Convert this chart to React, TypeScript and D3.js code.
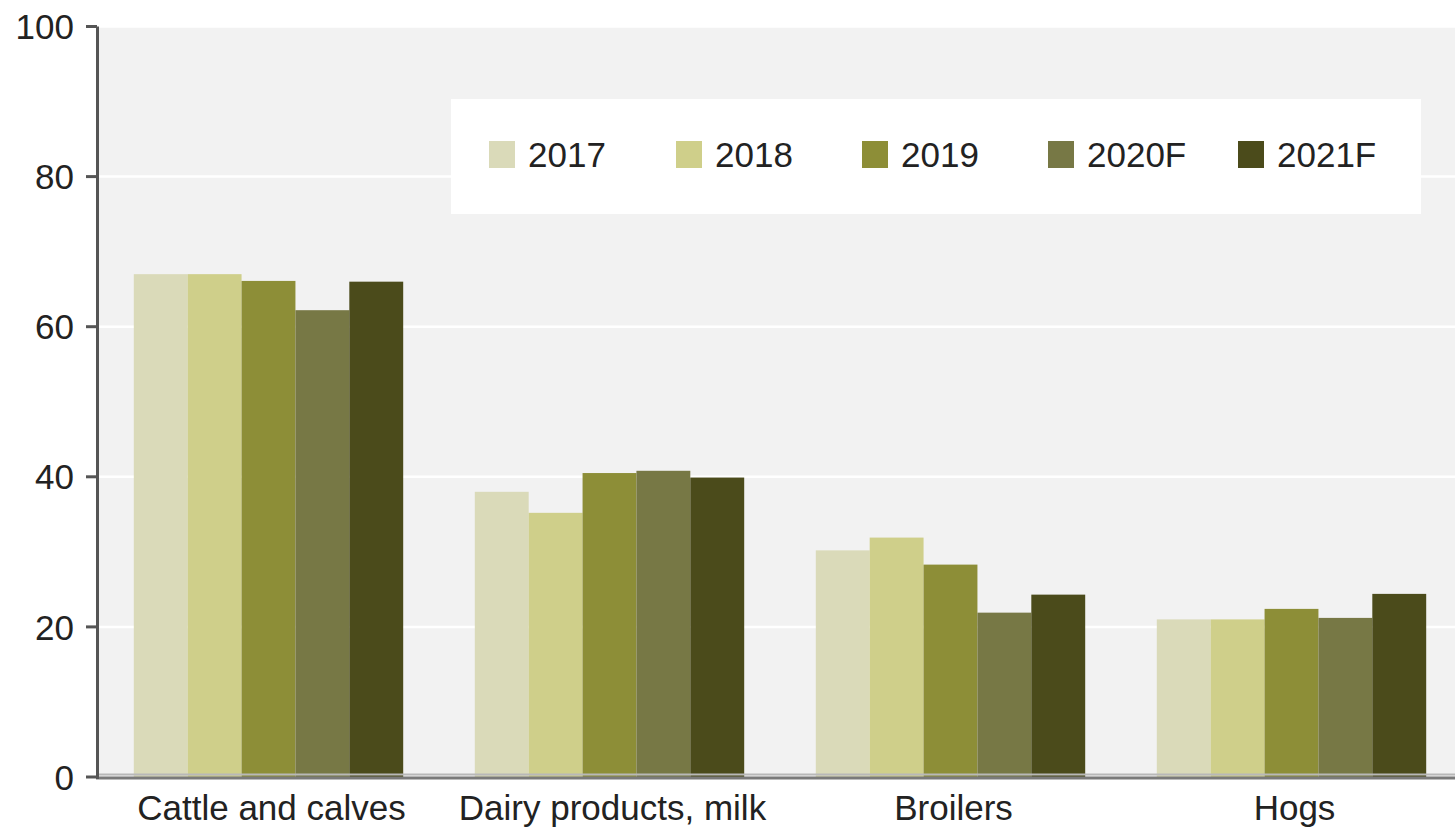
import React from "react";
import * as d3 from "d3";

const categories = ["Cattle and calves", "Dairy products, milk", "Broilers", "Hogs"];
const seriesNames = ["2017", "2018", "2019", "2020F", "2021F"];
const colors = ["#dadab9", "#cfcf8a", "#8d8e37", "#777845", "#4b4b1b"];
const values2017 = [67.0, 38.0, 30.2, 21.0];
const values2018 = [67.0, 35.2, 31.9, 21.0];
const values2019 = [66.1, 40.5, 28.3, 22.4];
const values2020F = [62.2, 40.8, 21.9, 21.2];
const values2021F = [66.0, 39.9, 24.3, 24.4];
const seriesValues = [values2017, values2018, values2019, values2020F, values2021F];
const yTicks = [0, 20, 40, 60, 80, 100];

const W = 1455;
const H = 827;
const FONT = "'Liberation Sans', Arial, sans-serif";

export default function App() {
  const plotLeft = 98;
  const plotRight = 1462;
  const y = d3.scaleLinear().domain([0, 100]).range([777, 26.5]);
  const x0 = d3
    .scaleBand<string>()
    .domain(categories)
    .range([plotLeft, plotRight])
    .paddingInner(0.21)
    .paddingOuter(0.105);
  const x1 = d3
    .scaleBand<string>()
    .domain(seriesNames)
    .range([0, x0.bandwidth()])
    .padding(0);

  const legendX = [489, 676, 862, 1048, 1238];

  return (
    <svg
      width={W}
      height={H}
      style={{ position: "absolute", left: 0, top: 0, background: "#fff" }}
      fontFamily={FONT}
    >
      <rect x={99} y={y(100)} width={W - 99} height={y(0) - y(100)} fill="#f2f2f2" />
      {yTicks
        .filter((t) => t > 0)
        .map((t) => (
          <line key={t} x1={99} x2={W} y1={y(t)} y2={y(t)} stroke="#ffffff" strokeWidth={2.5} />
        ))}
      {categories.map((c, ci) =>
        seriesNames.map((s, si) => {
          const v = seriesValues[si][ci];
          return (
            <rect
              key={c + s}
              x={(x0(c) as number) + (x1(s) as number)}
              y={y(v)}
              width={x1.bandwidth()}
              height={y(0) - y(v)}
              fill={colors[si]}
            />
          );
        })
      )}
      {/* legend */}
      <rect x={451} y={99} width={970} height={115} fill="#ffffff" />
      {seriesNames.map((s, i) => (
        <g key={s}>
          <rect x={legendX[i]} y={141} width={26} height={27} fill={colors[i]} />
          <text x={legendX[i] + 39} y={167} fontSize={35} fill="#222">
            {s}
          </text>
        </g>
      ))}
      {/* axes */}
      <line x1={99} x2={W} y1={774.5} y2={774.5} stroke="#b8b8b8" strokeWidth={2} />
      <line x1={96} x2={W} y1={778} y2={778} stroke="#7a7a7a" strokeWidth={3} />
      <line x1={97.5} x2={97.5} y1={y(100)} y2={779} stroke="#555" strokeWidth={3} />
      {yTicks.map((t) => (
        <g key={t}>
          <line x1={86} x2={97} y1={y(t)} y2={y(t)} stroke="#555" strokeWidth={3} />
          <text
            x={74}
            y={y(t)}
            dy="0.36em"
            textAnchor="end"
            fontSize={35}
            fill="#222"
          >
            {t}
          </text>
        </g>
      ))}
      {categories.map((c) => (
        <text
          key={c}
          x={(x0(c) as number) + x0.bandwidth() / 2 + 3}
          y={820}
          textAnchor="middle"
          fontSize={35}
          fill="#222"
        >
          {c}
        </text>
      ))}
    </svg>
  );
}
